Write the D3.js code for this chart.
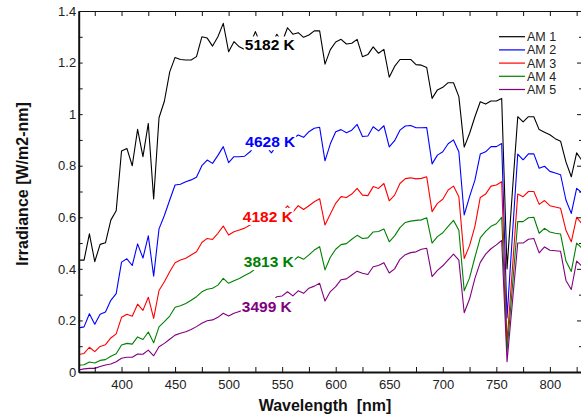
<!DOCTYPE html>
<html>
<head>
<meta charset="utf-8">
<script src="https://cdnjs.cloudflare.com/ajax/libs/d3/7.8.5/d3.min.js"></script>
<style>
  html, body { margin: 0; padding: 0; background: #fff; }
  svg { display: block; }
  text { font-family: "Liberation Sans", Arial, sans-serif; }
</style>
</head>
<body>
<svg id="chart" width="581" height="419"></svg>
<script>
// Wavelength samples, nm
const wavelengths = [
  360, 365, 370, 375, 380, 385, 390, 395, 400, 405, 410, 415, 420, 425, 430, 435, 440, 445, 450, 455,
  460, 465, 470, 475, 480, 485, 490, 495, 500, 505, 510, 515, 520, 525, 530, 535, 540, 545, 550, 555,
  560, 565, 570, 575, 580, 585, 590, 595, 600, 605, 610, 615, 620, 625, 630, 635, 640, 645, 650, 655,
  660, 665, 670, 675, 680, 685, 690, 695, 700, 705, 710, 715, 720, 725, 730, 735, 740, 745, 750, 755,
  760, 765, 770, 775, 780, 785, 790, 795, 800, 805, 810, 815, 820, 825, 830
];

// Spectral irradiance, W/m2-nm, one list per air mass
const am1 = [
  0.434, 0.434, 0.536, 0.428, 0.495, 0.501, 0.589, 0.625, 0.857, 0.867, 0.800, 0.941, 0.835, 0.964, 0.671, 0.986, 1.050, 1.164, 1.220, 1.212,
  1.210, 1.210, 1.223, 1.300, 1.295, 1.264, 1.300, 1.352, 1.242, 1.281, 1.261, 1.251, 1.270, 1.320, 1.270, 1.280, 1.270, 1.310, 1.280, 1.335,
  1.310, 1.316, 1.298, 1.307, 1.323, 1.323, 1.194, 1.250, 1.280, 1.290, 1.272, 1.275, 1.290, 1.223, 1.231, 1.261, 1.236, 1.251, 1.143, 1.185,
  1.212, 1.212, 1.212, 1.192, 1.190, 1.181, 1.061, 1.094, 1.104, 1.122, 1.122, 1.068, 0.872, 0.925, 0.990, 1.048, 1.039, 1.051, 1.051, 1.061,
  0.400, 0.700, 0.990, 0.970, 0.990, 0.990, 0.940, 0.930, 0.920, 0.905, 0.895, 0.815, 0.757, 0.850, 0.820
];
const am2 = [
  0.171, 0.175, 0.226, 0.185, 0.224, 0.233, 0.278, 0.304, 0.426, 0.439, 0.413, 0.497, 0.442, 0.528, 0.372, 0.555, 0.607, 0.667, 0.725, 0.728,
  0.738, 0.745, 0.755, 0.800, 0.822, 0.809, 0.840, 0.874, 0.812, 0.835, 0.835, 0.837, 0.854, 0.880, 0.870, 0.875, 0.850, 0.880, 0.880, 0.900,
  0.905, 0.919, 0.910, 0.932, 0.945, 0.949, 0.819, 0.885, 0.932, 0.940, 0.928, 0.938, 0.960, 0.913, 0.915, 0.951, 0.935, 0.955, 0.873, 0.897,
  0.938, 0.954, 0.956, 0.947, 0.947, 0.948, 0.807, 0.841, 0.854, 0.885, 0.900, 0.854, 0.609, 0.680, 0.744, 0.845, 0.854, 0.874, 0.874, 0.886,
  0.210, 0.530, 0.845, 0.823, 0.846, 0.846, 0.790, 0.798, 0.778, 0.772, 0.765, 0.667, 0.615, 0.712, 0.695
];
const am3 = [
  0.068, 0.072, 0.096, 0.079, 0.099, 0.106, 0.132, 0.148, 0.212, 0.224, 0.216, 0.263, 0.239, 0.290, 0.208, 0.316, 0.350, 0.389, 0.424, 0.434,
  0.441, 0.454, 0.466, 0.502, 0.518, 0.514, 0.538, 0.566, 0.531, 0.544, 0.551, 0.558, 0.570, 0.590, 0.595, 0.600, 0.600, 0.620, 0.620, 0.644,
  0.620, 0.645, 0.630, 0.645, 0.660, 0.672, 0.570, 0.613, 0.654, 0.680, 0.677, 0.690, 0.712, 0.686, 0.684, 0.719, 0.712, 0.731, 0.664, 0.686,
  0.731, 0.750, 0.753, 0.749, 0.751, 0.757, 0.622, 0.654, 0.670, 0.706, 0.721, 0.680, 0.440, 0.490, 0.565, 0.677, 0.690, 0.721, 0.725, 0.738,
  0.115, 0.400, 0.690, 0.680, 0.700, 0.700, 0.650, 0.665, 0.645, 0.640, 0.635, 0.550, 0.505, 0.600, 0.575
];
const am4 = [
  0.026, 0.028, 0.039, 0.035, 0.045, 0.048, 0.061, 0.071, 0.105, 0.111, 0.108, 0.136, 0.126, 0.155, 0.113, 0.175, 0.195, 0.217, 0.251, 0.257,
  0.266, 0.278, 0.292, 0.311, 0.321, 0.325, 0.337, 0.363, 0.344, 0.354, 0.363, 0.374, 0.385, 0.400, 0.405, 0.410, 0.410, 0.420, 0.420, 0.440,
  0.430, 0.447, 0.437, 0.454, 0.473, 0.486, 0.396, 0.445, 0.476, 0.494, 0.498, 0.515, 0.530, 0.518, 0.520, 0.543, 0.545, 0.555, 0.505, 0.528,
  0.560, 0.580, 0.585, 0.588, 0.590, 0.598, 0.500, 0.525, 0.540, 0.565, 0.588, 0.550, 0.315, 0.365, 0.445, 0.520, 0.545, 0.565, 0.575, 0.600,
  0.080, 0.330, 0.583, 0.583, 0.598, 0.600, 0.538, 0.557, 0.543, 0.538, 0.535, 0.430, 0.390, 0.500, 0.480
];
const am5 = [
  0.008, 0.012, 0.014, 0.014, 0.021, 0.027, 0.031, 0.040, 0.053, 0.057, 0.057, 0.070, 0.069, 0.085, 0.063, 0.098, 0.111, 0.127, 0.143, 0.150,
  0.156, 0.165, 0.176, 0.189, 0.199, 0.202, 0.212, 0.228, 0.217, 0.228, 0.235, 0.240, 0.248, 0.255, 0.260, 0.265, 0.270, 0.292, 0.295, 0.311,
  0.295, 0.315, 0.305, 0.325, 0.333, 0.344, 0.275, 0.312, 0.331, 0.358, 0.361, 0.376, 0.391, 0.383, 0.378, 0.408, 0.413, 0.424, 0.384, 0.400,
  0.437, 0.455, 0.463, 0.466, 0.476, 0.480, 0.370, 0.394, 0.412, 0.435, 0.457, 0.434, 0.230, 0.283, 0.363, 0.425, 0.457, 0.478, 0.493, 0.510,
  0.040, 0.270, 0.500, 0.500, 0.515, 0.518, 0.462, 0.485, 0.472, 0.470, 0.468, 0.355, 0.320, 0.430, 0.410
];

const seriesNames = ["AM 1", "AM 2", "AM 3", "AM 4", "AM 5"];
const colorTemps = ["5182 K", "4628 K", "4182 K", "3813 K", "3499 K"];
const xTickLabels = [400, 450, 500, 550, 600, 650, 700, 750, 800];
const yTickValues = [0, 0.2, 0.4, 0.6, 0.8, 1.0, 1.2, 1.4];
const yTickLabels = ["0", "0.2", "0.4", "0.6", "0.8", "1", "1.2", "1.4"];

// ---- layout ----
const W = 581, H = 419;
const plot = { left: 78.7, right: 582, top: 11, bottom: 372 };
const colors = ["#000000", "#0000ff", "#ff0000", "#008000", "#800080"];
const seriesValues = [am1, am2, am3, am4, am5];

const svg = d3.select("#chart");
svg.append("rect").attr("width", W).attr("height", H).attr("fill", "#fff");

const x = d3.scaleLinear().domain([360, 830]).range([plot.left, plot.right]);
const y = d3.scaleLinear().domain([0, 1.4]).range([plot.bottom, plot.top]);

// minor x ticks every 25 nm, minor y ticks every 0.1
const xMinor = d3.range(375, 830, 25);
const yMinor = d3.range(0, 15).map(i => +(i / 10).toFixed(1));

// ---- series lines ----
const line = d3.line()
  .x((d, i) => x(wavelengths[i]))
  .y(d => y(d));

const clip = svg.append("defs").append("clipPath").attr("id", "plotclip")
  .append("rect")
  .attr("x", plot.left).attr("y", plot.top)
  .attr("width", plot.right - plot.left).attr("height", plot.bottom - plot.top);

const linesG = svg.append("g").attr("clip-path", "url(#plotclip)");
seriesValues.forEach((vals, s) => {
  linesG.append("path")
    .datum(vals)
    .attr("d", line)
    .attr("fill", "none")
    .attr("stroke", colors[s])
    .attr("stroke-width", 1.1)
    .attr("stroke-linejoin", "round");
});

// ---- colour-temperature labels on white boxes ----
const labelAnchors = [
  [515.1, 1.247], [515.6, 0.872], [513.3, 0.582], [514.2, 0.407], [512.3, 0.233]
];
const labelsG = svg.append("g");
colorTemps.forEach((t, s) => {
  const g = labelsG.append("g");
  const txt = g.append("text")
    .attr("x", x(labelAnchors[s][0]))
    .attr("y", y(labelAnchors[s][1]))
    .attr("font-size", "15.5px")
    .attr("font-weight", "bold")
    .attr("fill", colors[s])
    .text(t);
  const bb = txt.node().getBBox();
  g.insert("rect", "text")
    .attr("x", bb.x - 1).attr("y", bb.y)
    .attr("width", bb.width + 1).attr("height", bb.height)
    .attr("fill", "#fff");
});

// ---- axes ----
const axisColor = "#111";

// bottom
const xAxisB = svg.append("g")
  .attr("transform", `translate(0,${plot.bottom})`)
  .call(d3.axisBottom(x).tickValues(xMinor).tickSize(-5).tickSizeOuter(0)
    .tickPadding(8)
    .tickFormat(d => xTickLabels.includes(d) ? d : ""));
xAxisB.select(".domain").attr("stroke", axisColor).attr("stroke-width", 2.2);
xAxisB.selectAll(".tick line").attr("stroke", axisColor).attr("stroke-width", 1);
xAxisB.selectAll(".tick text")
  .attr("font-size", "13px").attr("fill", "#222")
  .attr("font-family", "'Liberation Sans', Arial, sans-serif");

// top
const xAxisT = svg.append("g")
  .attr("transform", `translate(0,${plot.top})`)
  .call(d3.axisTop(x).tickValues(xMinor).tickSize(-5).tickSizeOuter(0).tickFormat(""));
xAxisT.select(".domain").attr("stroke", axisColor).attr("stroke-width", 1.2);
xAxisT.selectAll(".tick line").attr("stroke", axisColor).attr("stroke-width", 1);

// left
const yAxisL = svg.append("g")
  .attr("transform", `translate(${plot.left},0)`)
  .call(d3.axisLeft(y).tickValues(yMinor).tickSize(-4).tickSizeOuter(0).tickPadding(2.5)
    .tickFormat(d => {
      const k = yTickValues.findIndex(v => Math.abs(v - d) < 1e-6);
      return k >= 0 ? yTickLabels[k] : "";
    }));
yAxisL.select(".domain").attr("stroke", axisColor).attr("stroke-width", 2);
yAxisL.selectAll(".tick line").attr("stroke", axisColor).attr("stroke-width", 1);
yAxisL.selectAll(".tick text")
  .attr("font-size", "13px").attr("fill", "#222")
  .attr("font-family", "'Liberation Sans', Arial, sans-serif");

// right
const yAxisR = svg.append("g")
  .attr("transform", `translate(${plot.right},0)`)
  .call(d3.axisRight(y).tickValues(yMinor).tickSizeOuter(0).tickFormat(""));
yAxisR.select(".domain").attr("stroke", axisColor).attr("stroke-width", 1.2);
yAxisR.selectAll(".tick line")
  .attr("stroke", axisColor).attr("stroke-width", 1)
  .attr("x2", d => yTickValues.some(v => Math.abs(v - d) < 1e-6) ? -5 : -3);

// ---- axis titles ----
svg.append("text")
  .attr("x", 325).attr("y", 411)
  .attr("text-anchor", "middle")
  .attr("font-size", "16px").attr("font-weight", "bold").attr("fill", "#111")
  .style("white-space", "pre")
  .text("Wavelength  [nm]");

svg.append("text")
  .attr("transform", "translate(27.5,184) rotate(-90)")
  .attr("text-anchor", "middle")
  .attr("font-size", "16px").attr("font-weight", "bold").attr("fill", "#111")
  .text("Irradiance [W/m2-nm]");

// ---- legend ----
const legend = svg.append("g");
seriesNames.forEach((name, s) => {
  const ly = 36.7 + s * 13.2;
  legend.append("line")
    .attr("x1", 499).attr("x2", 525).attr("y1", ly).attr("y2", ly)
    .attr("stroke", colors[s]).attr("stroke-width", 1.2);
  legend.append("text")
    .attr("x", 527).attr("y", ly).attr("dy", "0.36em")
    .attr("font-size", "12.5px").attr("fill", "#222")
    .text(name);
});
</script>
</body>
</html>
